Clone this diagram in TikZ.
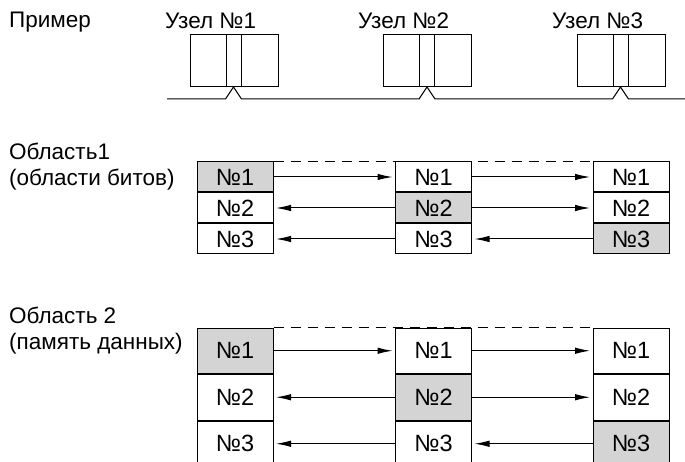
\documentclass[tikz,border=0pt]{standalone}
\usepackage{fontspec}
\setmainfont{Liberation Sans}
\usetikzlibrary{arrows.meta,positioning,calc}

\tikzset{
  cell/.style={draw, line width=1pt, minimum width=76pt, inner sep=0pt, font=\fontsize{23.5}{23.5}\selectfont},
  rowA/.style={cell, minimum height=30pt},
  rowB/.style={cell, minimum height=45.5pt},
  hot/.style={fill=black!17},
  part/.style={draw, line width=1pt, minimum height=52pt, inner sep=0pt, outer sep=0pt},
  arr/.style={-{Latex[length=15pt,width=6.5pt]}, line width=1pt, shorten >=2.5pt},
  lbl/.style={font=\fontsize{22.5}{26}\selectfont, align=left, anchor=west, inner sep=0pt}
}

\begin{document}
\begin{tikzpicture}[x=1pt,y=-1pt]
\useasboundingbox (0,0) rectangle (685,462);
\clip (0,0) rectangle (685,462);

% example: three nodes on a bus
\node[lbl] (ex) at (9,22) {Пример};
\node[lbl] (n1) at (165,21) {Узел №1};
\node[lbl] (n2) at (358,21) {Узел №2};
\node[lbl] (n3) at (552,21) {Узел №3};

\node[part, minimum width=15pt] (u1) at (233.5,61) {};
\node[part, minimum width=36pt, left=0pt of u1] (u1l) {};
\node[part, minimum width=37pt, right=0pt of u1] (u1r) {};
\node[part, minimum width=15pt] (u2) at (427,61) {};
\node[part, minimum width=36pt, left=0pt of u2] (u2l) {};
\node[part, minimum width=37pt, right=0pt of u2] (u2r) {};
\node[part, minimum width=15pt] (u3) at (620.5,61) {};
\node[part, minimum width=36pt, left=0pt of u3] (u3l) {};
\node[part, minimum width=37pt, right=0pt of u3] (u3r) {};

\coordinate (bus) at (167,99); \coordinate (busend) at (685,99);
\draw[line width=1pt] (bus) -- ($(u1.south)+(-8,12)$) -- (u1.south) -- ++(8,12)
  -- ($(u2.south)+(-8,12)$) -- (u2.south) -- ++(8,12)
  -- ($(u3.south)+(-8,12)$) -- (u3.south) -- ++(8,12) -- (busend);

% area 1
\node[lbl] (ar1) at (9,167) {Область1\\(области битов)};
\node[rowA,hot] (a11) at (235,177) {№1};
\node[rowA,below=0pt of a11] (a12) {№2};
\node[rowA,below=0pt of a12] (a13) {№3};
\node[rowA] (a21) at (433.5,177) {№1};
\node[rowA,hot,below=0pt of a21] (a22) {№2};
\node[rowA,below=0pt of a22] (a23) {№3};
\node[rowA] (a31) at (631,177) {№1};
\node[rowA,below=0pt of a31] (a32) {№2};
\node[rowA,hot,below=0pt of a32] (a33) {№3};
\draw[dash pattern=on 10pt off 7pt, line width=1pt] (a11.north east) -- (a31.north west);
\draw[arr] (a11) -- (a21);
\draw[arr] (a21) -- (a31);
\draw[arr] (a22) -- (a12);
\draw[arr] (a22) -- (a32);
\draw[arr] (a23) -- (a13);
\draw[arr] (a33) -- (a23);

% area 2
\node[lbl] (ar2) at (9,331) {Область 2\\(память данных)};
\node[rowB,hot] (b11) at (235,350.75) {№1};
\node[rowB,below=0pt of b11] (b12) {№2};
\node[rowB,below=0pt of b12] (b13) {№3};
\node[rowB] (b21) at (433.5,350.75) {№1};
\node[rowB,hot,below=0pt of b21] (b22) {№2};
\node[rowB,below=0pt of b22] (b23) {№3};
\node[rowB] (b31) at (631,350.75) {№1};
\node[rowB,below=0pt of b31] (b32) {№2};
\node[rowB,hot,below=0pt of b32] (b33) {№3};
\draw[dash pattern=on 10pt off 7pt, line width=1pt] (b11.north east) -- (b31.north west);
\draw[arr] (b11) -- (b21);
\draw[arr] (b21) -- (b31);
\draw[arr] (b22) -- (b12);
\draw[arr] (b22) -- (b32);
\draw[arr] (b23) -- (b13);
\draw[arr] (b33) -- (b23);
\end{tikzpicture}
\end{document}
